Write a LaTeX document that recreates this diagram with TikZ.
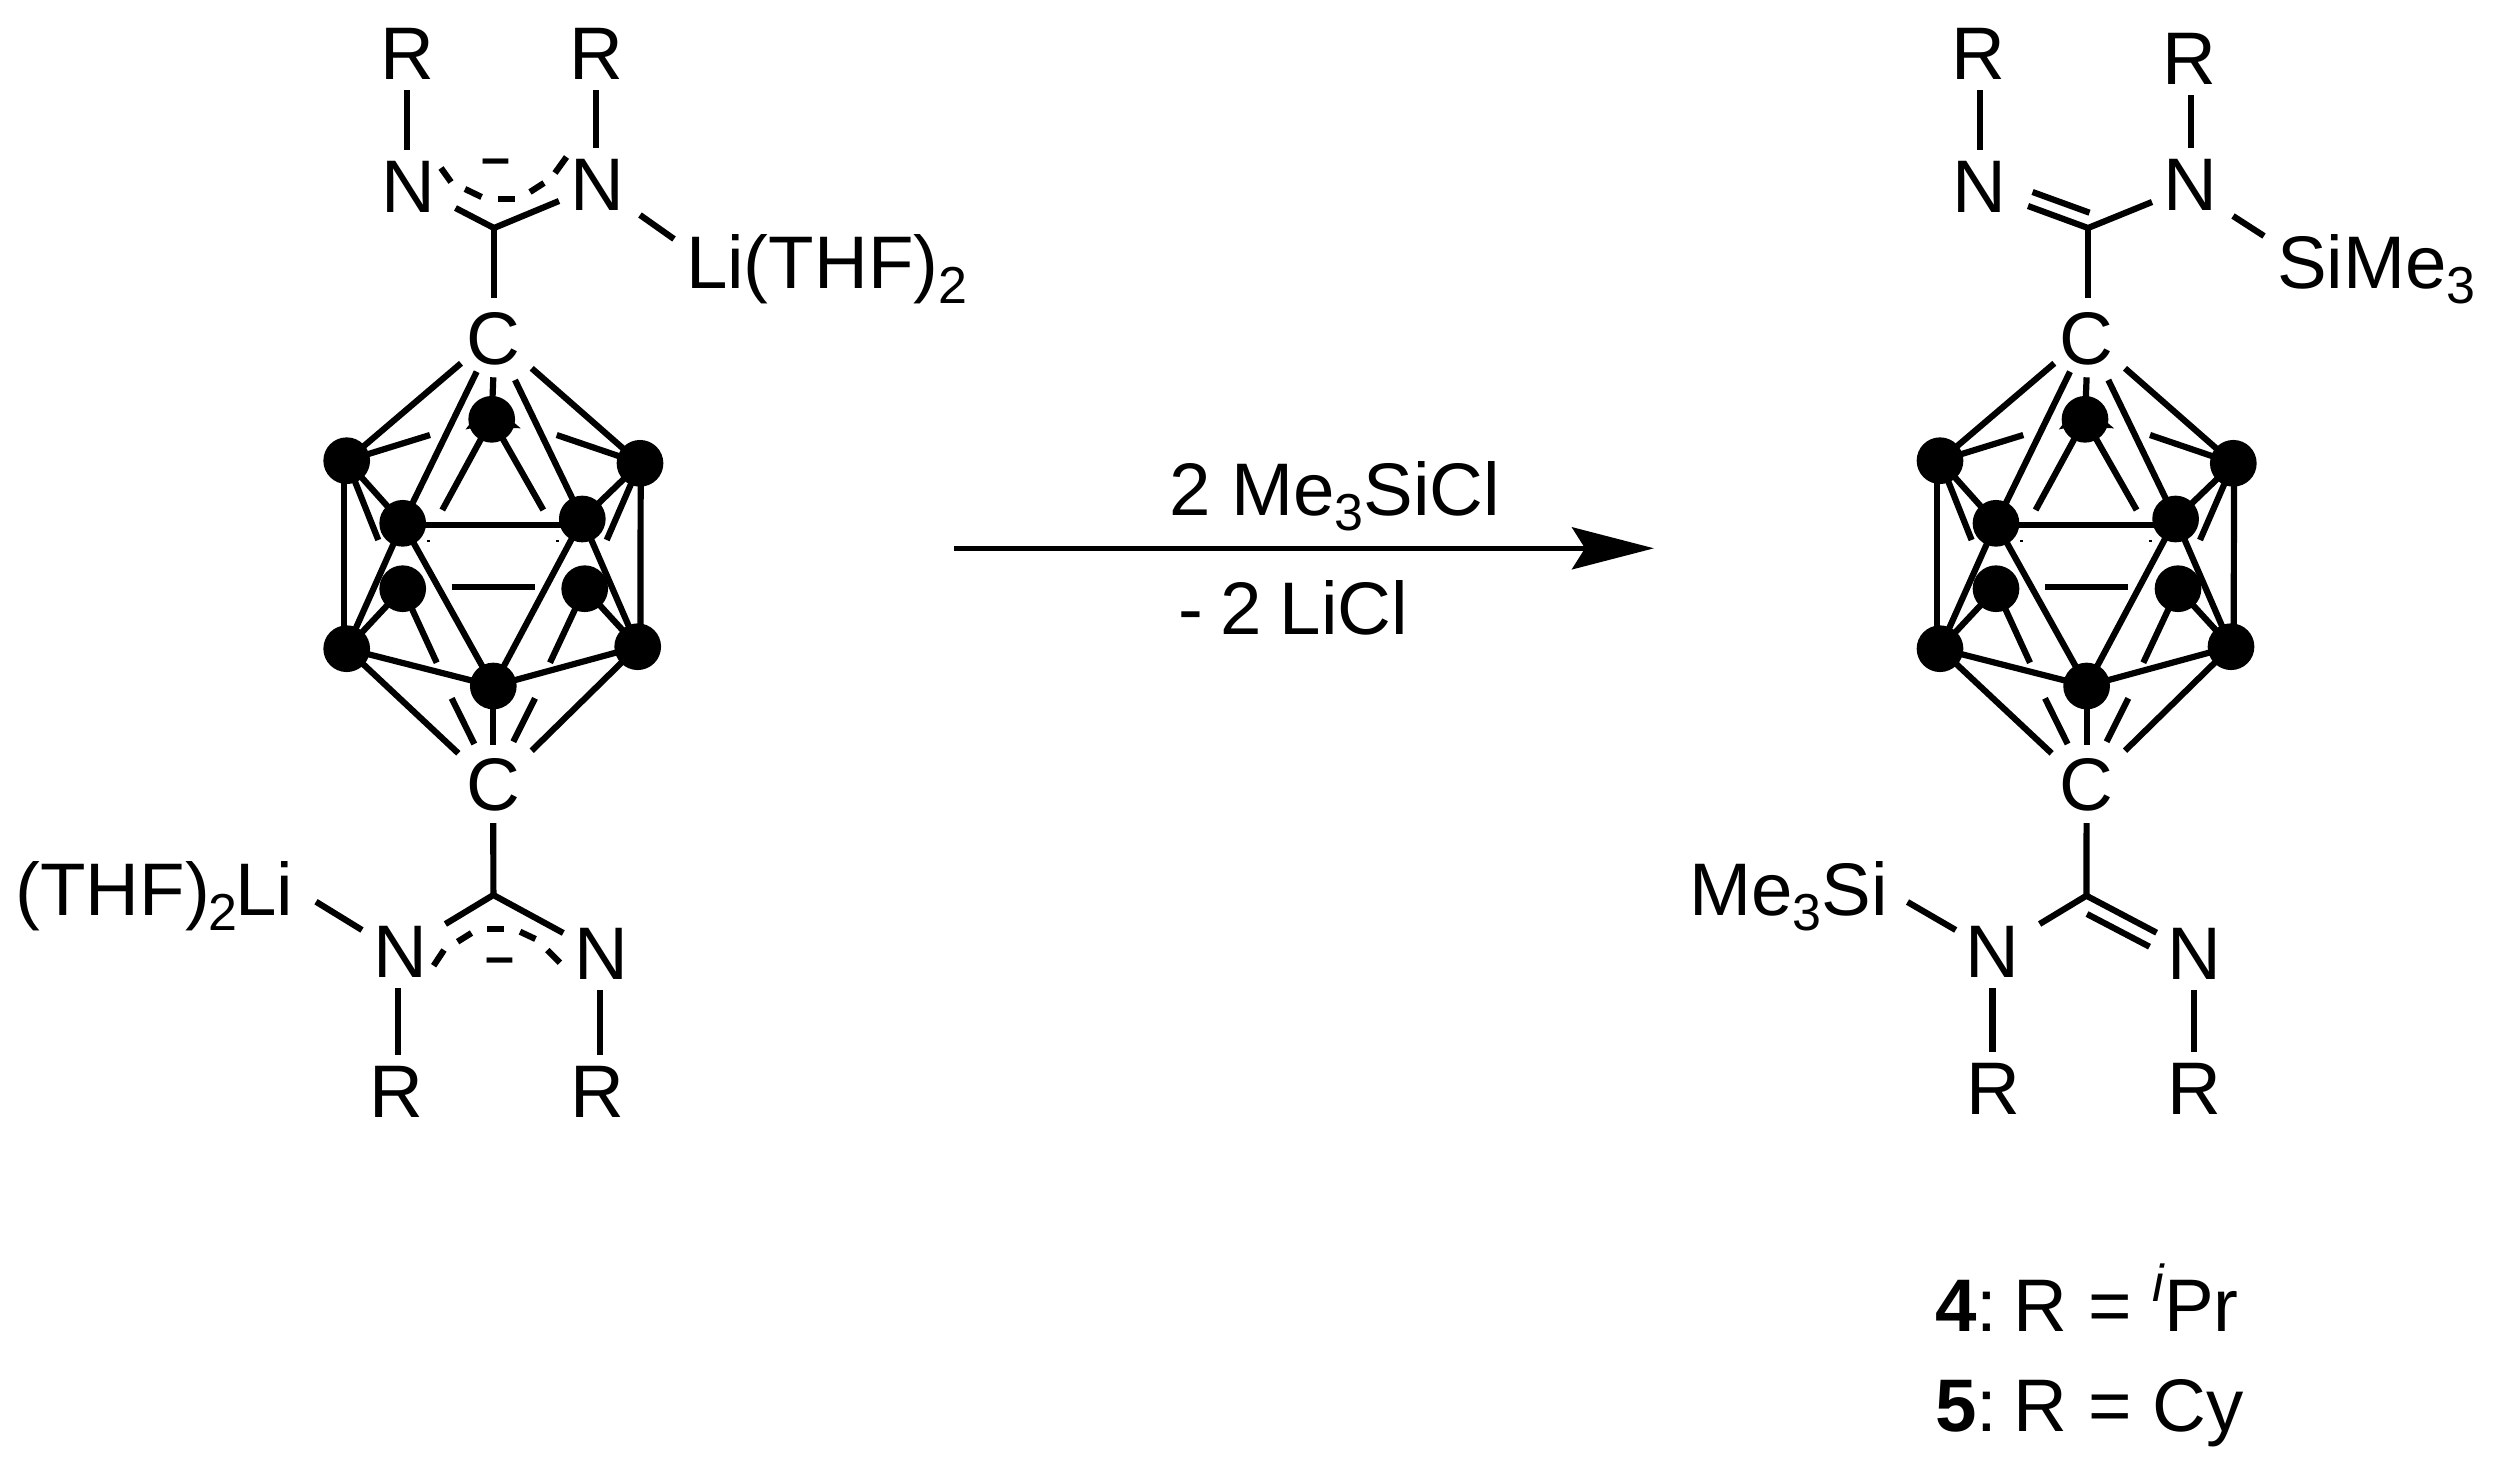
\documentclass[tikz,border=0pt]{standalone}
\usepackage{fontspec}
\setmainfont{Liberation Sans}
\usetikzlibrary{arrows.meta}
\newcommand\chemfont{\fontsize{74.5}{80}\selectfont}
\newcommand\subsc[1]{\raisebox{-15pt}{\fontsize{52}{52}\selectfont #1}}
\newcommand\supsc[1]{\raisebox{30pt}{\fontsize{52}{52}\selectfont\itshape #1}}
\tikzset{
  bond/.style={line width=6.2pt,line cap=butt,line join=miter},
  rbond/.style={bond,shorten <=11pt,shorten >=11pt},
  atom/.style={circle,fill=black,draw=none,inner sep=0pt,minimum size=46.7pt},
  lbl/.style={inner sep=0pt,outer sep=0pt,anchor=base,font=\chemfont},
  lblw/.style={lbl,anchor=base west},
  lble/.style={lbl,anchor=base east},
  charge/.style={inner sep=0pt,outer sep=0pt,anchor=base,font=\fontsize{52}{52}\selectfont\bfseries},
}
% cage: #1 = name prefix, #2 = horizontal offset
\newcommand\cagedraw[2]{%
\begin{scope}[xshift=#2pt]
  \node[lbl] (#1Ct) at (493.3,364) {C};
  \node[lbl] (#1Cb) at (493.3,810) {C};
  \node[atom] (#1T) at (491.7,419.3) {};
  \node[atom] (#1UL) at (346.7,460.7) {};
  \node[atom] (#1UR) at (640,463.3) {};
  \node[atom] (#1ML) at (402.7,523.3) {};
  \node[atom] (#1MR) at (582.3,519) {};
  \node[atom] (#1NL) at (402.7,588.7) {};
  \node[atom] (#1NR) at (584.7,588.7) {};
  \node[atom] (#1LL) at (346.7,648.7) {};
  \node[atom] (#1LR) at (637.7,646.7) {};
  \node[atom] (#1B) at (493.3,686) {};
  \coordinate (#1a1) at (461,363.3);
  \coordinate (#1a2) at (476.7,371.7);
  \coordinate (#1a3) at (493.3,377.3);
  \coordinate (#1a4) at (515,380);
  \coordinate (#1a5) at (531.7,368.3);
  \coordinate (#1t1) at (442.3,510);
  \coordinate (#1t2) at (543.3,510);
  \coordinate (#1u1) at (430,435);
  \coordinate (#1u2) at (556.7,435);
  \coordinate (#1u3) at (378.3,540);
  \coordinate (#1u4) at (606.7,540);
  \coordinate (#1l1) at (436.7,662.7);
  \coordinate (#1l2) at (550,662.7);
  \coordinate (#1m1) at (451.7,586.7);
  \coordinate (#1m2) at (535,586.7);
  \coordinate (#1b1) at (458.3,753.3);
  \coordinate (#1b2) at (531.7,750.7);
  \coordinate (#1b3) at (493.3,745);
  \coordinate (#1b4) at (451.7,698.3);
  \coordinate (#1b5) at (474.3,744);
  \coordinate (#1b6) at (535,698.3);
  \coordinate (#1b7) at (513.3,741.7);
  \draw[bond] (#1a1) -- (#1UL.center);
  \draw[bond] (#1a2) -- (#1ML.center);
  \draw[bond] (#1a3) -- (#1T.center);
  \draw[bond] (#1a4) -- (#1MR.center);
  \draw[bond] (#1a5) -- (#1UR.center);
  \draw[bond] (#1T.center) -- (#1t1);
  \draw[bond] (#1T.center) -- (#1t2);
  \draw[bond] (#1UL.center) -- (#1u1);
  \draw[bond] (#1UR.center) -- (#1u2);
  \draw[bond] (#1UL.center) -- (#1u3);
  \draw[bond] (#1UR.center) -- (#1u4);
  \draw[bond] (#1UL.center) -- (#1ML.center);
  \draw[bond] (#1UR.center) -- (#1MR.center);
  \draw[bond] ([xshift=-3pt]#1UL.center) -- ([xshift=-3pt]#1LL.center);
  \draw[bond] ([xshift=0.7pt]#1UR.center) -- ([xshift=2.7pt]#1LR.center);
  \draw[bond] ([yshift=-1.7pt]#1ML.center) -- ([yshift=-1.7pt]#1ML.center -| #1MR.center);
  \draw[bond] (#1ML.center) -- (#1LL.center);
  \draw[bond] (#1MR.center) -- (#1LR.center);
  \draw[bond] (#1ML.center) -- (#1B.center);
  \draw[bond] (#1MR.center) -- (#1B.center);
  \draw[bond] (#1NL.center) -- (#1LL.center);
  \draw[bond] (#1NR.center) -- (#1LR.center);
  \draw[bond] (#1NL.center) -- (#1l1);
  \draw[bond] (#1NR.center) -- (#1l2);
  \draw[bond] (#1m1) -- (#1m2);
  \draw[bond] (#1LL.center) -- (#1B.center);
  \draw[bond] (#1LR.center) -- (#1B.center);
  \draw[bond] (#1LL.center) -- (#1b1);
  \draw[bond] (#1LR.center) -- (#1b2);
  \draw[bond] (#1B.center) -- (#1b3);
  \draw[bond] (#1b4) -- (#1b5);
  \draw[bond] (#1b6) -- (#1b7);
  \fill (520.7,428.3) -- (511,420) -- (511,428) -- cycle;
  \fill (465.5,429.5) -- (472,421) -- (472,428) -- cycle;
  \fill (427,539.5) rectangle (430,541.5);
  \fill (556,539.5) rectangle (559,541.5);
\end{scope}}
\begin{document}
\begin{tikzpicture}[x=1pt,y=-1pt]
\useasboundingbox (0,0) rectangle (2497,1467);
\cagedraw{p}{0}
\cagedraw{q}{1593.3}
% left molecule, top amidinate
\node[lbl] (pR1) at (407,79) {R};
\node[lbl] (pR2) at (596,79) {R};
\node[lbl] (pN1) at (408,212) {N};
\node[lbl] (pN2) at (597,210) {N};
\node[lblw] (pLi) at (686,288) {Li(THF)\subsc{2}};
\node[charge] (pM1) at (496,175) {–};
\coordinate (pj1) at (494,228);
\draw[rbond] ([xshift=-1pt]pN1.north |- pR1.south) -- ([xshift=-1pt]pN1.north);
\draw[rbond] ([xshift=-1pt]pN2.north |- pR2.south) -- ([xshift=-1pt]pN2.north);
\draw[bond] (pj1) -- ([shift={(0,-66)}]pj1 |- pCt.base);
\draw[bond] ([shift={(47.5,-4)}]pN1.base) -- (pj1) -- ([shift={(-38,-9)}]pN2.base);
\draw[bond] ([shift={(43,5)}]pN2.base) -- ([shift={(-12,-49)}]pLi.base west);
\draw[bond] ([shift={(-53,-60)}]pj1) -- ([shift={(-43,-46)}]pj1);
\draw[bond] ([shift={(-29,-39)}]pj1) -- ([shift={(-12.4,-31)}]pj1);
\draw[bond] ([shift={(4,-29)}]pj1) -- ([shift={(20.6,-29)}]pj1);
\draw[bond] ([shift={(36,-36)}]pj1) -- ([shift={(50,-45)}]pj1);
\draw[bond] ([shift={(61,-55)}]pj1) -- ([shift={(72.5,-71)}]pj1);
% left molecule, bottom amidinate
\node[lbl] (pN3) at (400,977) {N};
\node[lbl] (pN4) at (601.6,979) {N};
\node[lbl] (pR3) at (396,1117) {R};
\node[lbl] (pR4) at (597,1117) {R};
\node[lble] (pLj) at (293,915.7) {(THF)\hspace{-2pt}\subsc{2}\hspace{-2pt}Li};
\node[charge] (pM2) at (500,974) {–};
\coordinate (pj2) at (493.4,895);
\draw[rbond] ([xshift=-2pt]pN3.south) -- ([xshift=-2pt]pN3.south |- pR3.north);
\draw[rbond] ([xshift=-1.6pt]pN4.south) -- ([xshift=-1.6pt]pN4.south |- pR4.north);
\draw[bond] ([shift={(0,13)}]pCb.base) -- (pj2);
\draw[bond] ([shift={(45.4,-53)}]pN3.base) -- (pj2) -- ([shift={(-38.3,-46)}]pN4.base);
\draw[bond] ([shift={(23,-14)}]pLj.base east) -- ([shift={(-38,-47)}]pN3.base);
\draw[bond] ([shift={(-59.8,70.7)}]pj2) -- ([shift={(-49.4,55)}]pj2);
\draw[bond] ([shift={(-35.8,46.7)}]pj2) -- ([shift={(-21.9,38)}]pj2);
\draw[bond] ([shift={(-6.4,34.3)}]pj2) -- ([shift={(10.6,34.3)}]pj2);
\draw[bond] ([shift={(26.6,36.7)}]pj2) -- ([shift={(42.1,44)}]pj2);
\draw[bond] ([shift={(53.9,55)}]pj2) -- ([shift={(66.6,67.7)}]pj2);
% reaction arrow
\coordinate (as) at (954,548.3);
\coordinate (ae) at (1654,548.3);
\draw[line width=5pt,-{Stealth[length=82pt,width=42pt,inset=13pt]}] (as) -- (ae);
\node[lblw] (rt) at (1169,515.7) {2 Me\subsc{3}SiCl};
\node[lblw] (rb) at (1178,634) {-\hspace{-3pt} 2\hspace{-3pt} LiCl};
% right molecule, top amidine
\node[lbl] (qR1) at (1978.5,79) {R};
\node[lbl] (qR2) at (2189.4,84) {R};
\node[lbl] (qN1) at (1979.6,212) {N};
\node[lbl] (qN2) at (2190.8,210) {N};
\node[lblw] (qSi) at (2277,288) {SiMe\subsc{3}};
\coordinate (qj1) at (2088,228);
\draw[rbond] (qN1.north |- qR1.south) -- (qN1.north);
\draw[rbond] (qN2.north |- qR2.south) -- (qN2.north);
\draw[bond] (qj1) -- ([shift={(0,-66)}]qj1 |- qCt.base);
\draw[bond] ([shift={(48.4,-6)}]qN1.base) -- (qj1) -- ([shift={(-38.8,-8)}]qN2.base);
\draw[bond] ([shift={(-55.5,-36)}]qj1) -- ([shift={(1.5,-15.3)}]qj1);
\draw[bond] ([shift={(42.2,6)}]qN2.base) -- ([shift={(-13,-52)}]qSi.base west);
% right molecule, bottom amidine
\node[lbl] (qN3) at (1992.5,977) {N};
\node[lbl] (qN4) at (2194,979) {N};
\node[lbl] (qR3) at (1993,1114) {R};
\node[lbl] (qR4) at (2194,1114) {R};
\node[lble] (qSj) at (1888,915.7) {Me\subsc{3}Si};
\coordinate (qj2) at (2086.4,895.7);
\draw[rbond] (qN3.south) -- (qN3.south |- qR3.north);
\draw[rbond] (qN4.south) -- (qN4.south |- qR4.north);
\draw[bond] ([shift={(0,13)}]qCb.base) -- (qj2);
\draw[bond] ([shift={(47.1,-53)}]qN3.base) -- (qj2) -- ([shift={(-37.4,-46.3)}]qN4.base);
\draw[bond] ([shift={(0.6,18.3)}]qj2) -- ([shift={(63.1,51)}]qj2);
\draw[bond] ([shift={(19.5,-13.7)}]qSj.base east) -- ([shift={(-36.8,-47)}]qN3.base);
% compound legend
\node[lblw] (leg4) at (1935,1331.7) {\textbf{4}:\hspace{-11pt} R = \supsc{i}Pr};
\node[lblw] (leg5) at (1935,1431.7) {\textbf{5}:\hspace{-11pt} R = Cy};
\end{tikzpicture}
\end{document}
